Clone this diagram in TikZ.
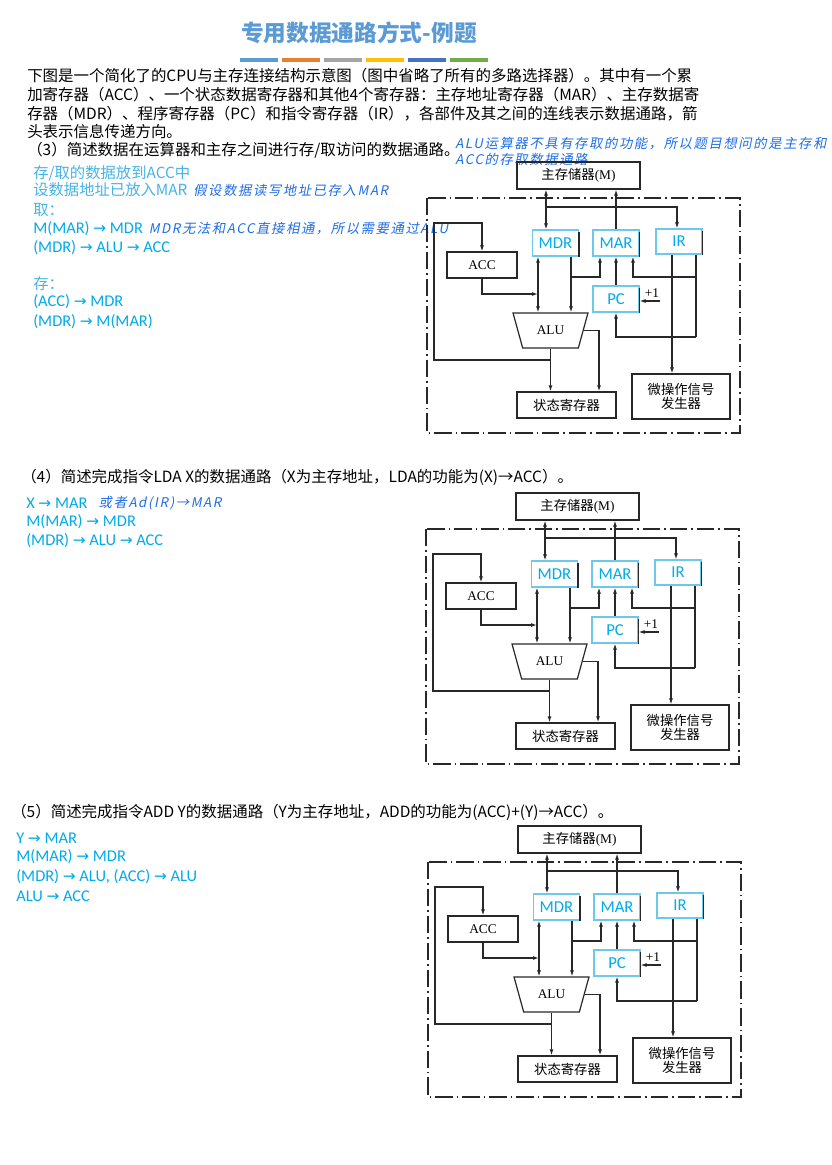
\documentclass[tikz,border=0pt]{standalone}
\usepackage{fontspec}
\setmainfont{Noto Sans CJK SC}
\newfontfamily\calfont{Carlito}
\newfontfamily\tmfont{Liberation Serif}
\newfontfamily\dvfont{DejaVu Sans}
\newfontfamily\notefont[FakeSlant=0.2,LetterSpace=12]{Noto Sans CJK SC}
\usetikzlibrary{arrows.meta, positioning, shapes.geometric}

\definecolor{titleblue}{RGB}{91,155,213}
\definecolor{barorange}{RGB}{237,125,49}
\definecolor{bargray}{RGB}{165,165,165}
\definecolor{bargold}{RGB}{255,192,0}
\definecolor{bardblue}{RGB}{68,114,196}
\definecolor{bargreen}{RGB}{112,173,71}
\definecolor{cyantext}{RGB}{0,170,235}
\definecolor{lightcyan}{RGB}{70,180,230}
\definecolor{handblue}{RGB}{30,110,230}
\definecolor{regline}{RGB}{110,200,235}
\definecolor{linegray}{RGB}{40,40,40}

\newcommand\tm[1]{{\tmfont #1}}
\newcommand\toarr{{\dvfont\fontsize{11.5}{12}\selectfont →}}

\begin{document}
\begin{tikzpicture}[x=0.75pt, y=-0.75pt, >={Latex[length=4.5pt,width=3pt]},
    wire/.style={draw=linegray, line width=0.9pt},
    box/.style={wire, inner sep=0pt, minimum height=19.5pt, font=\fontsize{10}{13}\selectfont},
    reg/.style={draw=regline, line width=0.8pt, inner sep=0pt, minimum width=34.5pt,
                minimum height=19.5pt, text=cyantext, font=\calfont\fontsize{12.5}{14}\selectfont},
    alu/.style={wire, trapezium, shape border rotate=180, trapezium stretches=true,
                trapezium left angle=62, trapezium right angle=62, inner sep=0pt,
                minimum width=56.25pt, minimum height=26.25pt,
                font=\tmfont\fontsize{10}{12}\selectfont},
    frame/.style={wire, dash pattern=on 13pt off 3pt on 1.2pt off 3pt},
    hd/.style={anchor=west, font=\fontsize{11.6}{14}\selectfont, align=left, inner sep=0pt},
    cj/.style={anchor=west, text=lightcyan, font=\fontsize{11.5}{14}\selectfont, inner sep=0pt},
    cy/.style={anchor=west, text=cyantext, font=\calfont\fontsize{12.3}{14}\selectfont, inner sep=0pt},
    note/.style={anchor=west, text=handblue, font=\notefont\fontsize{10}{12}\selectfont,
                 inner sep=0pt, align=left}]
  \fill[white] (0,0) rectangle (832,1165);
  \useasboundingbox (0,0) rectangle (832,1165);

  % title and colour bars
  \node[text=titleblue, font=\bfseries\fontsize{17}{20}\selectfont] (title) at (359,33) {专用数据通路方式-例题};
  \foreach \c [count=\i from 0] in {titleblue,barorange,bargray,bargold,bardblue,bargreen}
    \fill[\c] (240+42*\i,58) rectangle ++(38,4);

  \node[hd] (intro) at (27,104) {下图是一个简化了的CPU与主存连接结构示意图（图中省略了所有的多路选择器）。其中有一个累\\
    加寄存器（ACC）、一个状态数据寄存器和其他4个寄存器：主存地址寄存器（MAR）、主存数据寄\\
    存器（MDR）、程序寄存器（PC）和指令寄存器（IR），各部件及其之间的连线表示数据通路，箭\\
    头表示信息传递方向。};

  % question 3
  \node[hd] (q3) at (27,150) {（3）简述数据在运算器和主存之间进行存/取访问的数据通路。};
  \node[note] (n1) at (455,151) {ALU运算器不具有存取的功能，所以题目想问的是主存和\\ACC的存取数据通路};
  \node[cj] (s1) at (33,173) {存/取的数据放到ACC中};
  \node[cj] (s2) at (33,190) {设数据地址已放入MAR};
  \node[note, right=4pt of s2] (n2) {假设数据读写地址已存入MAR};
  \node[cj] (s3) at (33,210) {取：};
  \node[cy] (s4) at (33,229) {M(MAR) \toarr{} MDR};
  \node[note, right=4pt of s4] (n3) {MDR无法和ACC直接相通，所以需要通过ALU};
  \node[cy] (s5) at (33,248) {(MDR) \toarr{} ALU \toarr{} ACC};
  \node[cj] (s6) at (33,284) {存：};
  \node[cy] (s7) at (33,302) {(ACC) \toarr{} MDR};
  \node[cy] (s8) at (33,322) {(MDR) \toarr{} M(MAR)};

  % question 4
  \node[hd] (q4) at (21,477) {（4）简述完成指令LDA X的数据通路（X为主存地址，LDA的功能为(X)→ACC）。};
  \node[cy] (l1) at (26,503) {X \toarr{} MAR};
  \node[note, right=8pt of l1] (n4) {或者Ad(IR)→MAR};
  \node[cy] (l2) at (26,522) {M(MAR) \toarr{} MDR};
  \node[cy] (l3) at (26,541) {(MDR) \toarr{} ALU \toarr{} ACC};

  % question 5
  \node[hd] (q5) at (11,812) {（5）简述完成指令ADD Y的数据通路（Y为主存地址，ADD的功能为(ACC)+(Y)→ACC）。};
  \node[cy] (m1) at (16,838) {Y \toarr{} MAR};
  \node[cy] (m2) at (16,857) {M(MAR) \toarr{} MDR};
  \node[cy] (m3) at (16,877) {(MDR) \toarr{} ALU, (ACC) \toarr{} ALU};
  \node[cy] (m4) at (16,896) {ALU \toarr{} ACC};

  % the same CPU diagram, three times
  \foreach \dx/\dy/\p in {0/0/a, -1/331/b, 1/664/c} {
    \begin{scope}[shift={(\dx,\dy)}, name prefix=\p-]
      \node[box, minimum width=92.25pt, minimum height=20.25pt] (mem) at (578.5,175.5) {主存储器\tm{(M)}};
      \draw[frame] (427,198) rectangle (740,433);
      \node[reg] (mdr) at (555.5,243) {MDR};
      \node[reg] (mar) at (616,243) {MAR};
      \node[reg, minimum height=18.75pt] (ir) at (679,241.5) {IR};
      \node[reg] (pc) at (616,299) {PC};
      \foreach \r in {mdr,mar,ir,pc}
        \draw[wire] ([yshift=-2pt]\r.north east) -- (\r.south east);
      \node[box, minimum width=52.5pt, font=\tmfont\fontsize{10}{12}\selectfont] (acc) at (482,265) {ACC};
      \node[alu] (alu) at (550.5,330.5) {ALU};
      \node[box, minimum width=74.25pt] (sr) at (566.5,405) {状态寄存器};
      \node[box, minimum width=73.5pt, minimum height=33.75pt, align=center,
            font=\fontsize{10}{10.5}\selectfont] (mog) at (681,396.5) {微操作信号\\发生器};
      \node[font=\tmfont\fontsize{10}{12}\selectfont, inner sep=0pt] (one) at (652,293) {+1};
      % junctions
      \coordinate (j1) at (546,207);
      \coordinate (j3) at (538,294);
      \coordinate (j4) at (571,277);
      \coordinate (j5) at (696,277);
      \coordinate (j6) at (696,337);
      \coordinate (j7) at (550.5,360);
      \coordinate (j8) at (434,223);
      \coordinate (inc) at (660,301);
      % data paths
      \draw[wire, <->] (mem.south -| j1) -- (mdr.north -| j1);
      \draw[wire, ->] (j1) -| ([xshift=-1.5pt]ir.north);
      \draw[wire, ->] (mar.north) -- (mar.north |- mem.south);
      \draw[wire, <->] (mdr.south -| j3) -- (alu.north -| j3);
      \draw[wire, ->] (acc.south) |- (j3);
      \draw[wire, ->] (mdr.south -| j4) -- (alu.north -| j4);
      \draw[wire, ->] (j4) -| ([xshift=-12pt]mar.south);
      \draw[wire, ->] (pc.north) -- (mar.south);
      \draw[wire] (ir.south -| j5) -- (j6);
      \draw[wire, ->] (j5) -| ([xshift=12.75pt]mar.south);
      \draw[wire, ->] (j6) -| (pc.south);
      \draw[wire, ->] ([xshift=-5.25pt]ir.south) -- ([xshift=-5.25pt]ir.south |- mog.north);
      \draw[wire, ->] (inc) -- (inc -| pc.east);
      \draw[wire, ->] (alu.south) -- (alu.south |- sr.north);
      \draw[wire, ->] (j7) -| (j8) -| (acc.north);
      \draw[wire, ->] (alu.east) -| ([xshift=24.4pt]sr.north);
    \end{scope}
  }
\end{tikzpicture}
\end{document}
